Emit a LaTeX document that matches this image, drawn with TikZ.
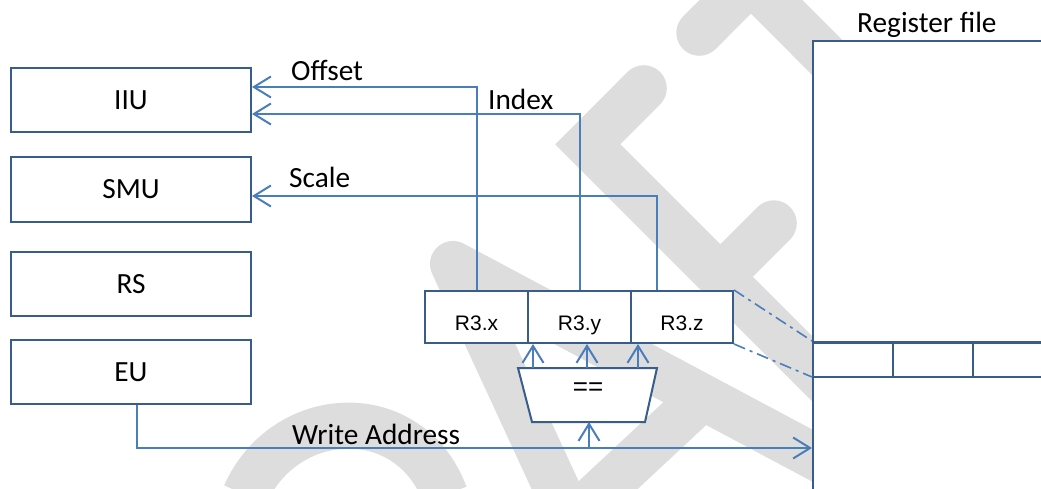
\documentclass[tikz,border=0pt]{standalone}
\usepackage{fontspec}
\setmainfont{Carlito}
\newfontfamily\arialf{Liberation Sans}
\usetikzlibrary{arrows.meta}
\definecolor{conncol}{RGB}{74,126,187}
\definecolor{boxcol}{RGB}{56,93,138}
\definecolor{wmcol}{RGB}{221,221,221}
\tikzset{
  unitbox/.style={draw=boxcol,line width=2pt,fill=white,minimum width=240pt,minimum height=64pt,inner sep=0pt,font=\fontsize{29.3}{32}\selectfont},
  regbox/.style={draw=boxcol,line width=2pt,fill=white,minimum height=52pt,inner sep=0pt,text height=30pt,text depth=4pt,font=\arialf\fontsize{21}{24}\selectfont},
  conn/.style={draw=conncol,line width=2pt},
  arr/.style={-{Straight Barb[length=17pt,width=21pt]}},
  lbl/.style={anchor=base west,inner sep=0pt,font=\fontsize{29.3}{32}\selectfont},
  ddot/.style={draw=conncol,line width=1.6pt,dash pattern=on 12pt off 5pt on 3pt off 5pt},
  wmstroke/.style={draw=wmcol,line width=46pt,line cap=round,line join=round}
}
\begin{document}
\begin{tikzpicture}[x=1pt,y=-1pt]
\useasboundingbox (0,0) rectangle (1041,489);
% watermark (DRAFT, rotated)
\begin{scope}
\clip (0,0) rectangle (1041,489);
% R bowl
\draw[wmstroke,line cap=butt] (245,495) .. controls (285,405) and (410,400) .. (445,495);
% A
\draw[wmstroke] (562,500) -- (453,264) -- (830,465);
\draw[wmstroke,line cap=butt] (560,530) -- (708,392);
% F
\draw[wmstroke,line join=miter] (643.8,88.2) -- (587.8,144.3) -- (840,396.5);
\draw[wmstroke] (720.3,276.8) -- (773.8,223.3);
% T
\draw[wmstroke,line cap=butt] (699.3,32.8) -- (800,-68);
\draw[wmstroke] (699.3,32.8) -- (710,22);
\draw[wmstroke,line cap=butt] (725,-45) -- (900,130.5);
\end{scope}
% register file
\node[draw=boxcol,line width=2pt,fill=white,minimum width=250pt,minimum height=470pt,inner sep=0pt,anchor=north west] (reg) at (812,40) {};
\node[lbl] (regl) at (857,33) {Register file};
\draw[draw=boxcol,line width=3pt] (812,342) -- (1045,342);
\draw[draw=boxcol,line width=2pt] (812,377) -- (1045,377);
\draw[draw=boxcol,line width=2pt] (893,342) -- (893,377);
\draw[draw=boxcol,line width=2pt] (973,342) -- (973,377);
\coordinate (regA) at (812,341);
\coordinate (regB) at (812,377);
\coordinate (regW) at (812,448);
% unit boxes
\node[unitbox] (iiu) at (131,100) {IIU};
\node[unitbox] (smu) at (131,189.5) {SMU};
\node[unitbox] (rs) at (131,284) {RS};
\node[unitbox] (eu) at (131,372) {EU};
% R3 boxes
\node[regbox,minimum width=103pt] (r3x) at (476.5,317) {R3.x};
\node[regbox,minimum width=103pt] (r3y) at (579.5,317) {R3.y};
\node[regbox,minimum width=102pt] (r3z) at (682,317) {R3.z};
% connectors to units
\draw[conn,arr] (r3x.north) |- ([yshift=13pt]iiu.east);
\draw[conn,arr] (r3y.north) |- ([yshift=-14pt]iiu.east);
\draw[conn,arr] ([xshift=-25pt]r3z.north) |- ([yshift=-6.5pt]smu.east);
\node[lbl] (offl) at (291,81) {Offset};
\node[lbl] (idxl) at (488,110) {Index};
\node[lbl] (scl) at (289,188) {Scale};
% comparator
\draw[draw=boxcol,line width=2pt,fill=white] (518,368) -- (657,368) -- (645,422) -- (532,422) -- cycle;
\node[inner sep=0pt,font=\arialf\fontsize{26}{28}\selectfont] (eq) at (588,389) {==};
\coordinate (t1) at (533,368);
\coordinate (t2) at (587,368);
\coordinate (t3) at (638,368);
\coordinate (tb) at (589,422);
\coordinate (wa) at (589,448);
\draw[conn,arr] (t1) -- (t1 |- r3x.south);
\draw[conn,arr] (t2) -- (t2 |- r3y.south);
\draw[conn,arr] (t3) -- (t3 |- r3z.south);
% write address
\draw[conn,arr] ([xshift=6pt]eu.south) |- (regW);
\draw[conn,arr] (wa) -- (tb);
\node[lbl] (wal) at (292,444) {Write Address};
% dash-dot projection
\draw[ddot] (r3z.north east) -- (regA);
\draw[ddot] (r3z.south east) -- (regB);
\end{tikzpicture}
\end{document}
